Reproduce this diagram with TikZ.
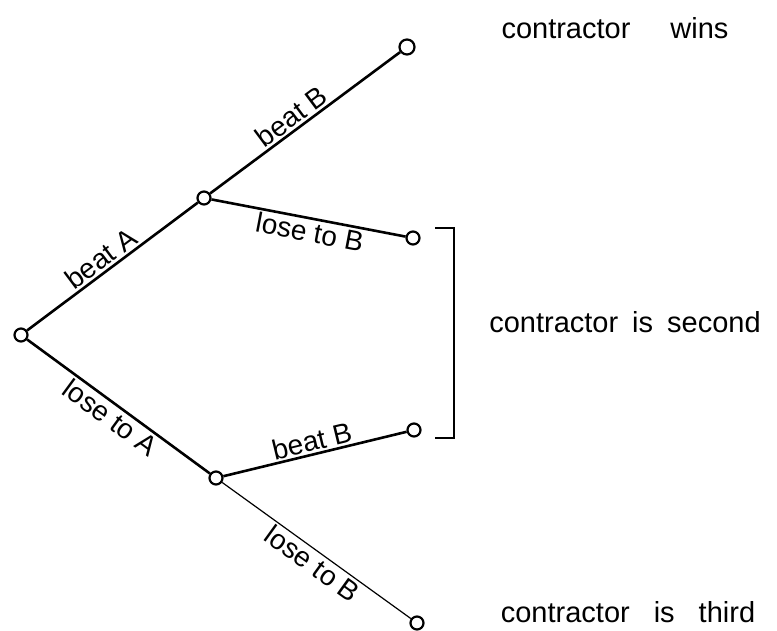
\documentclass[tikz,border=0pt]{standalone}
\usepackage{fontspec}
\setmainfont{Liberation Sans}
\begin{document}
\begin{tikzpicture}[x=1pt,y=-1pt,
  vtx/.style={circle,draw,line width=2.2pt,fill=white,inner sep=0pt,minimum size=13pt},
  edge/.style={line width=2.6pt},
  thinedge/.style={line width=1.2pt},
  lab/.style={font=\fontsize{28}{30}\selectfont,sloped,midway,inner sep=2pt},
  outcome/.style={font=\fontsize{29}{32}\selectfont,inner sep=0pt}]
\useasboundingbox (0,0) rectangle (777,631);
\node[vtx] (r) at (21,335) {};
\node[vtx] (u) at (204,198) {};
\node[vtx] (l) at (216,478) {};
\node[vtx,minimum size=15pt] (uu) at (407,47) {};
\node[vtx] (ul) at (413,238) {};
\node[vtx] (lu) at (414,430) {};
\node[vtx] (ll) at (417,623) {};
\draw[edge] (r) -- node[lab,above,pos=0.48] {beat\hspace{8pt}A} (u);
\draw[edge] (u) -- node[lab,above,pos=0.47] {beat B} (uu);
\draw[edge] (u) -- node[lab,below,pos=0.52] {lose to B} (ul);
\draw[edge] (r) -- node[lab,below,pos=0.5] {lose\hspace{8pt}to\hspace{8pt}A} (l);
\draw[edge] (l) -- node[lab,above] {beat B} (lu);
\draw[thinedge] (l) -- node[lab,below,pos=0.52] {lose\hspace{8pt}to B} (ll);
\coordinate (b1) at (435,228);
\coordinate (b2) at (454,228);
\coordinate (b3) at (454,438);
\coordinate (b4) at (435,438);
\draw[line width=1.8pt] (b1) -- (b2) -- (b3) -- (b4);
\node[outcome] (w) at (615,28) {contractor\hspace{40pt}wins};
\node[outcome] (s) at (625,322) {contractor\hspace{14pt}is\hspace{14pt}second};
\node[outcome] (t) at (628,612) {contractor\hspace{24pt}is\hspace{24pt}third};
\end{tikzpicture}
\end{document}
